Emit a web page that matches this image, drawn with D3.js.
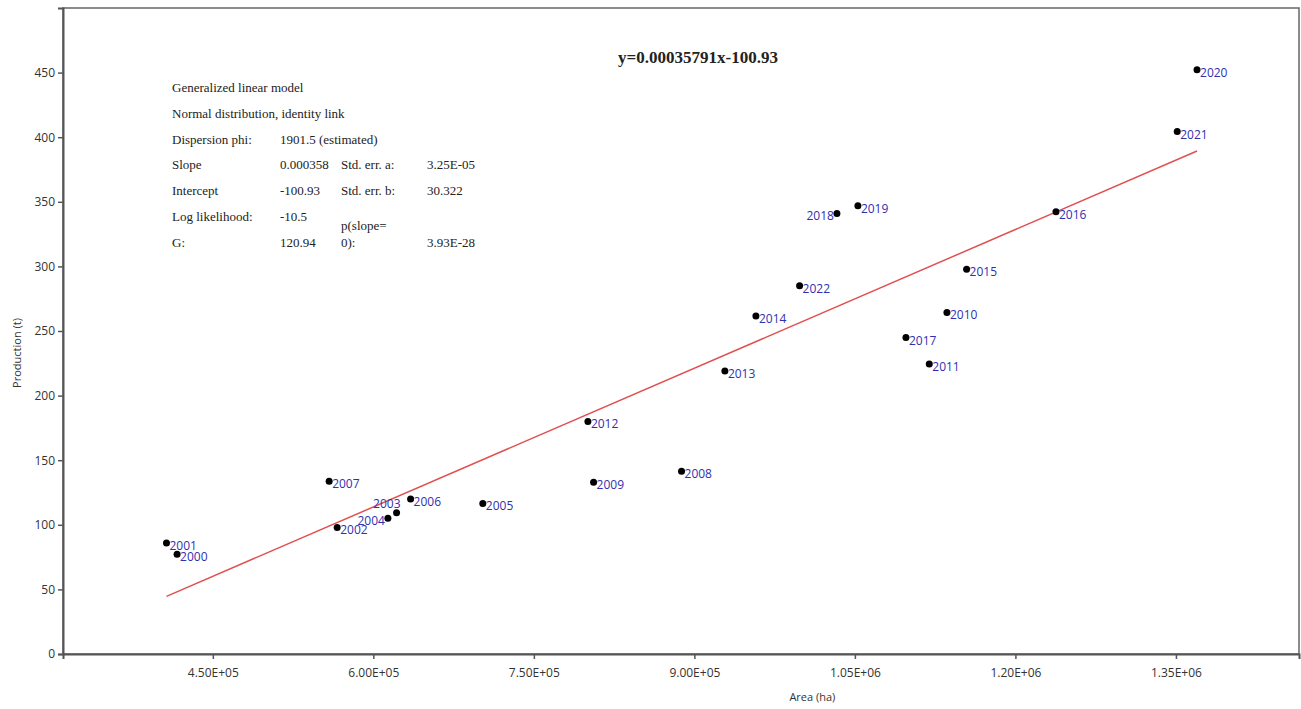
<!DOCTYPE html>
<html>
<head>
<meta charset="utf-8">
<script src="https://cdn.jsdelivr.net/npm/d3@7"></script>
<style>
  body { margin: 0; background: #fff; }
  .tick text { font-family: "Open Sans", sans-serif; font-size: 12px; fill: #333; }
  .axis-text { font-family: "Open Sans", sans-serif; font-size: 11px; fill: #333; }
  .stats text { font-family: "Liberation Serif", serif; font-size: 13px; fill: #222; }
</style>
</head>
<body>
<div id="scatter"></div>
<script>
// data
var years = [2000, 2001, 2002, 2003, 2004, 2005, 2006, 2007, 2008, 2009, 2010,
  2011, 2012, 2013, 2014, 2015, 2016, 2017, 2018, 2019, 2020, 2021, 2022];
var area = [416600, 406700, 566200, 621700, 613600, 702300, 634800, 558700, 888000, 805800, 1136000,
  1119500, 800500, 928500, 957500, 1154400, 1237900, 1097700, 1033200, 1052800, 1369700, 1351200, 998300];
var production = [77.3, 86, 98, 109.3, 105, 116.5, 120, 133.8, 141.5, 133, 264.4,
  224.5, 180, 219, 261.6, 297.7, 342.3, 244.9, 341, 347, 452.3, 404.4, 285];
// labels placed left of the point
var leftLabels = [2003, 2004, 2018];

var xTicks = [450000, 600000, 750000, 900000, 1050000, 1200000, 1350000];
var yTicks = [0, 50, 100, 150, 200, 250, 300, 350, 400, 450];

var slope = 0.00035791;
var intercept = -100.93;

var statsRows = [
  ["Generalized linear model"],
  ["Normal distribution, identity link"],
  ["Dispersion phi:", "1901.5 (estimated)"],
  ["Slope", "0.000358", "Std. err. a:", "3.25E-05"],
  ["Intercept", "-100.93", "Std. err. b:", "30.322"],
  ["Log likelihood:", "-10.5"],
  ["G:", "120.94", "0):", "3.93E-28"]
];

var svgWidth = 1301;
var svgHeight = 709;

var margin = { top: 8, right: 2, bottom: 55, left: 63 };
var width = svgWidth - margin.left - margin.right;
var height = svgHeight - margin.top - margin.bottom;

var svg = d3.select("#scatter")
  .append("svg")
  .attr("width", svgWidth)
  .attr("height", svgHeight);

var chartGroup = svg.append("g")
  .attr("transform", `translate(${margin.left}, ${margin.top})`);

var points = years.map(function(y, i) {
  return { year: y, area: area[i], production: production[i] };
});

// scales
var xLinearScale = d3.scaleLinear()
  .domain([310000, 1465000])
  .range([0, width]);

var yLinearScale = d3.scaleLinear()
  .domain([0, 500])
  .range([height, 0]);

var bottomAxis = d3.axisBottom(xLinearScale)
  .tickValues(xTicks)
  .tickSize(5)
  .tickFormat(d => d.toExponential(2).toUpperCase().replace(/E\+(\d)$/, "E+0$1"));
var leftAxis = d3.axisLeft(yLinearScale)
  .tickValues(yTicks)
  .tickSize(5);

// frame
chartGroup.append("rect")
  .attr("width", width)
  .attr("height", height)
  .attr("fill", "none")
  .attr("stroke", "#666")
  .attr("stroke-width", 1.5);

var xAxis = chartGroup.append("g")
  .attr("transform", `translate(0, ${height})`)
  .call(bottomAxis);

var yAxis = chartGroup.append("g")
  .call(leftAxis);

[xAxis, yAxis].forEach(function(ax) {
  ax.select(".domain").attr("stroke", "#555").attr("stroke-width", 2);
  ax.selectAll(".tick line").attr("stroke", "#555").attr("stroke-width", 1.5);
});
xAxis.selectAll(".tick text").attr("dy", "1.25em");

// regression line over the data range
var xExtent = d3.extent(area);
chartGroup.append("line")
  .attr("x1", xLinearScale(xExtent[0]))
  .attr("y1", yLinearScale(slope * xExtent[0] + intercept))
  .attr("x2", xLinearScale(xExtent[1]))
  .attr("y2", yLinearScale(slope * xExtent[1] + intercept))
  .attr("stroke", "#e0504f")
  .attr("stroke-width", 1.5);

// points
chartGroup.selectAll("circle")
  .data(points)
  .enter()
  .append("circle")
  .attr("cx", d => xLinearScale(d.area))
  .attr("cy", d => yLinearScale(d.production))
  .attr("r", 3.5)
  .attr("fill", "#000");

// year labels
chartGroup.selectAll(".year-label")
  .data(points)
  .enter()
  .append("text")
  .attr("class", "year-label")
  .attr("x", function(d) {
    var px = xLinearScale(d.area);
    if (d.year === 2003) return px + 4;
    return leftLabels.indexOf(d.year) >= 0 ? px - 3 : px + 3;
  })
  .attr("y", function(d) {
    var py = yLinearScale(d.production);
    if (d.year === 2003) return py - 5;
    return py + 7;
  })
  .attr("text-anchor", d => leftLabels.indexOf(d.year) >= 0 ? "end" : "start")
  .attr("font-family", "Open Sans, sans-serif")
  .attr("font-size", "12px")
  .attr("fill", "#3030b0")
  .text(d => d.year);

// equation
svg.append("text")
  .attr("x", 698)
  .attr("y", 63)
  .attr("text-anchor", "middle")
  .attr("font-family", "Liberation Serif, serif")
  .attr("font-weight", "bold")
  .attr("font-size", "17px")
  .attr("fill", "#222")
  .text("y=" + slope + "x" + intercept);

// model summary
var stats = svg.append("g").attr("class", "stats");
var colX = [172, 280, 341, 427];
statsRows.forEach(function(row, i) {
  row.forEach(function(cell, j) {
    stats.append("text")
      .attr("x", colX[j])
      .attr("y", 92 + i * 25.8)
      .text(cell);
  });
});
stats.append("text")
  .attr("x", colX[2])
  .attr("y", 92 + 6 * 25.8 - 17)
  .text("p(slope=");

// axis titles
svg.append("text")
  .attr("x", margin.left + xLinearScale(9.0e5) + 118)
  .attr("y", 701)
  .attr("text-anchor", "middle")
  .classed("axis-text", true)
  .text("Area (ha)");

svg.append("text")
  .attr("transform", "rotate(-90)")
  .attr("x", -353)
  .attr("y", 21)
  .attr("text-anchor", "middle")
  .classed("axis-text", true)
  .text("Production (t)");
</script>
</body>
</html>
